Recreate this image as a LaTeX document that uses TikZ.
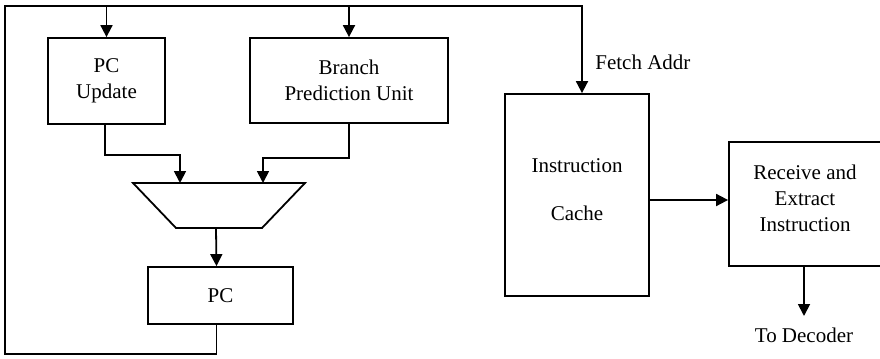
\documentclass[tikz,border=0pt]{standalone}
\usepackage{fontspec}
\setmainfont{Liberation Serif}
\usetikzlibrary{arrows.meta,calc}
\begin{document}
\begin{tikzpicture}[x=0.5pt,y=-0.5pt,
  every node/.style={font=\fontsize{10.5}{13}\selectfont},
  box/.style={draw,line width=0.9pt,inner sep=0pt,align=center},
  boxtext/.style={inner sep=0pt,align=center},
  wire/.style={line width=0.9pt},
  arr/.style={line width=0.9pt,-{Triangle[width=6pt,length=6pt]}},
  lbl/.style={inner sep=0pt}]
\useasboundingbox (0,0) rectangle (880,359);
\clip (0,0) rectangle (880,359);
% boxes
\node[box,minimum width=58.5pt,minimum height=43pt] (pcu) at (106.5,81) {PC\\Update};
\node[box,minimum width=99pt,minimum height=42.5pt] (bpu) at (349,80.5) {Branch\\Prediction Unit};
\node[box,minimum width=72.5pt,minimum height=28.5pt] (pc) at (220.5,295.5) {PC};
\node[box,minimum width=72pt,minimum height=101pt] (ic) at (577,195) {};
\node[boxtext] (ictext) at (577,190) {Instruction\\[11pt]Cache};
\node[box,minimum width=76pt,minimum height=62pt] (rx) at (805,204) {};
\node[boxtext] (rxtext) at (805,198) {Receive and\\Extract\\Instruction};
% mux trapezoid
\coordinate (mtl) at (133,183);
\coordinate (mtr) at (305,183);
\coordinate (mbr) at (262,228);
\coordinate (mbl) at (176,228);
\draw[wire] (mtl) -- (mtr) -- (mbr) -- (mbl) -- cycle;
\coordinate (muxin1) at (180,183);
\coordinate (muxin2) at (263,183);
\coordinate (muxout) at (216,228);
% labels
\node[lbl,anchor=base west] (fetch) at (595,69) {Fetch Addr};
\node[lbl,anchor=north] (todec) at (804,328) {To Decoder};
% loop
\coordinate (loopbl) at (5,354);
\coordinate (looptl) at (5,6);
\draw[arr] ([xshift=-2pt]pc.south) |- (loopbl) -- (looptl) -| ([xshift=2.5pt]ic.north);
\draw[arr] (pcu.north |- looptl) -- (pcu.north);
\draw[arr] (bpu.north |- looptl) -- (bpu.north);
% into mux
\draw[arr] ([xshift=-0.7pt]pcu.south) -- ++(0,30) -| (muxin1);
\draw[arr] (bpu.south) -- ++(0,34) -| (muxin2);
\draw[arr] (muxout) -- ([xshift=-2pt]pc.north);
% cache to receive
\draw[arr] ([yshift=-2.5pt]ic.east) -- ([yshift=-2.5pt]ic.east -| rx.west);
\draw[arr] ([xshift=-0.5pt]rx.south) -- ([yshift=6pt]todec.north);
\end{tikzpicture}
\end{document}
